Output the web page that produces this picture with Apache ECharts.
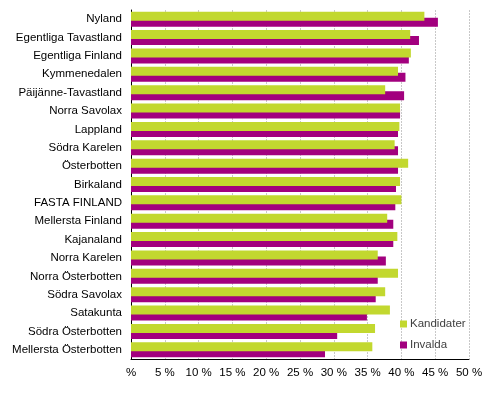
<!DOCTYPE html>
<html><head><meta charset="utf-8">
<script src="https://cdn.jsdelivr.net/npm/echarts@6/dist/echarts.min.js"></script>
<style>html,body{margin:0;padding:0;background:#fff}#c{width:489px;height:395px}</style>
</head><body><div id="c"></div>
<script>
const categories = ["Nyland","Egentliga Tavastland","Egentliga Finland","Kymmenedalen","Päijänne-Tavastland","Norra Savolax","Lappland","Södra Karelen","Österbotten","Birkaland","FASTA FINLAND","Mellersta Finland","Kajanaland","Norra Karelen","Norra Österbotten","Södra Savolax","Satakunta","Södra Österbotten","Mellersta Österbotten"];
const kandidater = [43.4,41.3,41.4,39.5,37.6,39.8,39.7,39.0,41.0,39.8,40.0,37.9,39.4,36.5,39.5,37.6,38.3,36.1,35.7];
const invalda = [45.4,42.6,41.1,40.6,40.4,39.8,39.5,39.5,39.5,39.2,39.1,38.8,38.8,37.7,36.5,36.2,34.9,30.5,28.7];
const xTicks = [0,5,10,15,20,25,30,35,40,45,50];

const chart = echarts.init(document.getElementById('c'));
chart.setOption({
  animation:false,
  textStyle:{fontFamily:'Liberation Sans, Arial, sans-serif'},
  grid:{left:131,right:20,top:10,bottom:36,containLabel:false},
  legend:{orient:'vertical',left:395,top:313,itemWidth:7,itemHeight:7,itemGap:9,icon:'rect',
    textStyle:{fontSize:11.5,color:'#404040',padding:[0,0,0,-2]},data:['Kandidater','Invalda']},
  xAxis:{type:'value',min:0,max:50,interval:5,
    axisLine:{show:true,lineStyle:{color:'#000',width:1}},
    axisTick:{show:false},
    splitLine:{show:true,lineStyle:{color:'#c8c8c8',type:[2,1],width:1}},
    axisLabel:{fontSize:11.5,color:'#000',margin:8,formatter:v=> v===0?'%':v+' %'}},
  yAxis:{type:'category',data:categories,inverse:true,
    axisLine:{show:true,lineStyle:{color:'#000',width:1}},
    axisTick:{show:false},
    axisLabel:{fontSize:11.5,color:'#000',margin:9}},
  series:[
    {name:'Kandidater',type:'bar',data:kandidater,barWidth:9,barGap:'-33.3%',z:3,itemStyle:{color:'#C2D82F'}},
    {name:'Invalda',type:'bar',data:invalda,barWidth:9,z:2,itemStyle:{color:'#A2007E'}}
  ]
});
</script></body></html>
